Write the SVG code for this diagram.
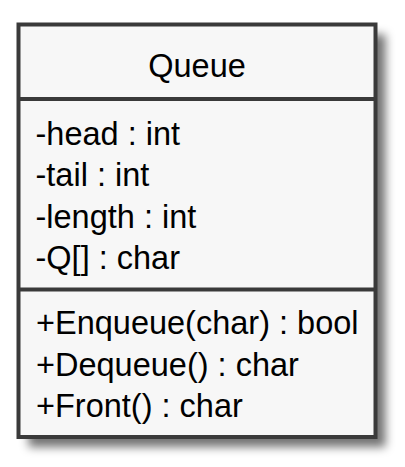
<svg xmlns="http://www.w3.org/2000/svg" width="405" height="467" viewBox="0 0 405 467">
  <style>
    .box { fill: #f7f7f7; stroke: #3a3a3a; stroke-width: 4; }
    .sep { stroke: #3a3a3a; stroke-width: 4; }
    .t { font-family: "Liberation Sans", Arial, sans-serif; font-size: 32.5px; fill: #000; }
  </style>
  <defs>
    <filter id="shadow" x="-20%" y="-20%" width="140%" height="140%">
      <feGaussianBlur in="SourceGraphic" stdDeviation="5"/>
    </filter>
  </defs>
  <g id="Queue">
    <rect x="28.5" y="34.5" width="357" height="412.5" fill="#000" fill-opacity="0.55" filter="url(#shadow)"/>
    <rect class="box" x="18.5" y="24.5" width="357" height="412.5"/>
    <text class="t" x="197" y="76.5" text-anchor="middle">Queue</text>
    <line class="sep" x1="18.5" y1="99" x2="375.5" y2="99"/>
    <text class="t" x="35.5" y="144.5">-head : int</text>
    <text class="t" x="35.5" y="186">-tail : int</text>
    <text class="t" x="35.5" y="227.5">-length : int</text>
    <text class="t" x="35.5" y="269">-Q[] : char</text>
    <line class="sep" x1="18.5" y1="289.5" x2="375.5" y2="289.5"/>
    <text class="t" x="36" y="334.3">+Enqueue(char) : bool</text>
    <text class="t" x="36" y="375.8">+Dequeue() : char</text>
    <text class="t" x="36" y="417.3">+Front() : char</text>
  </g>
  <g id="connectors"></g>
</svg>
